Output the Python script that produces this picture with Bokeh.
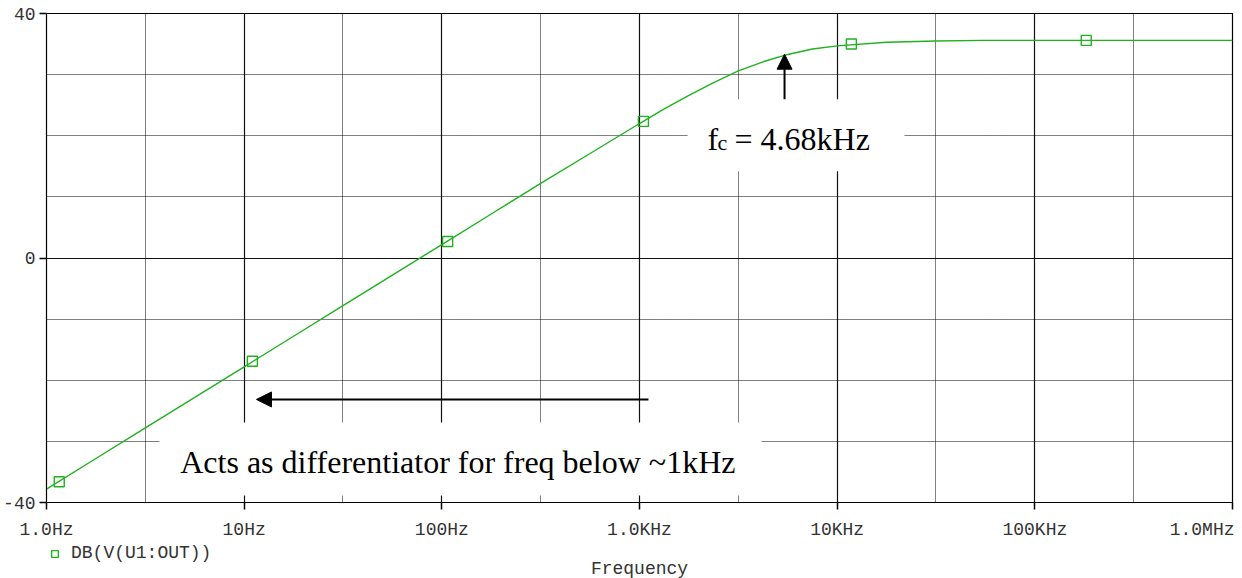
import numpy as np
from bokeh.plotting import figure
from bokeh.layouts import column
from bokeh.models import (FixedTicker, Grid, Label, BoxAnnotation, Arrow, NormalHead,
                          Legend, LegendItem)
from bokeh.embed import file_html
from bokeh.resources import INLINE

# ---- data ----
freq_hz = [1, 1.778, 3.162, 5.623, 10, 17.78, 31.62, 56.23, 100, 177.8, 316.2, 562.3,
           1000, 1334, 1778, 2371, 3162, 4217, 5623, 7499, 10000, 17780, 31620, 56230,
           100000, 1000000]
gain_db = [-37.8, -32.8, -27.8, -22.8, -17.8, -12.8, -7.8, -2.8, 2.2, 7.2, 12.2, 17.1,
           22.0, 24.4, 26.6, 28.7, 30.6, 32.1, 33.3, 34.2, 34.7, 35.3, 35.5, 35.6,
           35.6, 35.6]
marker_hz = [1.16, 11.0, 107, 1047, 11800, 182000]
marker_db = [-36.6, -16.9, 2.7, 22.35, 35.0, 35.6]

x_ticks = [1.0, 10.0, 100.0, 1000.0, 10000.0, 100000.0, 1000000.0]
x_tick_labels = ["1.0Hz", "10Hz", "100Hz", "1.0KHz", "10KHz", "100KHz", "1.0MHz"]
x_half_decades = [3.162, 31.62, 316.2, 3162.0, 31620.0, 316200.0]
y_ticks = [-40, 0, 40]
y_tick_labels = ["-40", "0", "40"]
y_dotted = [-30, -20, -10, 10, 20, 30]

series_name = "DB(V(U1:OUT))"
x_title = "Frequency"
fc_text = "4.68kHz"
note_text = "Acts as differentiator for freq below ~1kHz"

GREEN = "#1fb21f"
MONO = "Liberation Mono"
SERIF = "Liberation Serif"
W = 1234

p = figure(width=W, height=542, x_axis_type="log", x_range=(1, 1e6), y_range=(-40, 40),
           output_backend="svg", toolbar_location=None,
           min_border_left=39, min_border_right=2, min_border_top=13, min_border_bottom=38)
p.outline_line_color = "black"
p.outline_line_width = 1.2

# grids
p.xgrid.ticker = FixedTicker(ticks=x_ticks)
p.xgrid.grid_line_color = "#111111"
p.xgrid.grid_line_width = 1.2
p.ygrid.ticker = FixedTicker(ticks=[0])
p.ygrid.grid_line_color = "#111111"
p.ygrid.grid_line_width = 1.2
p.add_layout(Grid(dimension=0, ticker=FixedTicker(ticks=x_half_decades),
                  grid_line_color="#000000", grid_line_dash="1 1", grid_line_width=1))
p.add_layout(Grid(dimension=1, ticker=FixedTicker(ticks=y_dotted),
                  grid_line_color="#000000", grid_line_dash="1 1", grid_line_width=1))

# axes
for ax in (p.xaxis[0], p.yaxis[0]):
    ax.axis_line_color = "black"
    ax.major_tick_line_color = "black"
    ax.major_tick_line_width = 1.5
    ax.major_tick_in = 0
    ax.major_tick_out = 7
    ax.minor_tick_in = 0
    ax.minor_tick_out = 0
    ax.major_label_text_font = MONO
    ax.major_label_text_font_size = "18px"
    ax.major_label_text_color = "#333333"
    ax.major_label_standoff = 4

p.xaxis.ticker = FixedTicker(ticks=x_ticks, minor_ticks=[])
p.xaxis.major_label_overrides = {t: l for t, l in zip(x_ticks, x_tick_labels)}
p.xaxis.major_label_standoff = 10
p.yaxis.ticker = FixedTicker(ticks=y_ticks, minor_ticks=[])
p.yaxis.major_label_overrides = {t: l for t, l in zip(y_ticks, y_tick_labels)}

# data
p.line(freq_hz, gain_db, line_color=GREEN, line_width=1.4)
p.scatter(marker_hz, marker_db, marker="square", size=10, fill_color=None,
          line_color=GREEN, line_width=1.4)

# white boxes behind annotations
p.add_layout(BoxAnnotation(left=1750, right=21900, bottom=14.18, top=25.97,
                           fill_color="white", fill_alpha=1, line_alpha=0))
p.add_layout(BoxAnnotation(left=3.73, right=4142, bottom=-38.85, top=-26.9,
                           fill_color="white", fill_alpha=1, line_alpha=0))

# arrows
p.add_layout(Arrow(end=NormalHead(size=15, fill_color="black", line_color="black"),
                   x_start=5417, y_start=25.97, x_end=5417, y_end=33.34,
                   line_color="black", line_width=2))
p.add_layout(Arrow(end=NormalHead(size=15, fill_color="black", line_color="black"),
                   x_start=1110, y_start=-23.14, x_end=11.54, y_end=-23.14,
                   line_color="black", line_width=2))

# fc annotation
p.add_layout(Label(x=2208, y=19.42, text="f", text_font=SERIF, text_font_size="32px",
                   text_color="black", text_baseline="alphabetic", text_align="left"))
p.add_layout(Label(x=2208, y=19.42, x_offset=10, y_offset=-3, text="c", text_font=SERIF,
                   text_font_size="22px", text_color="black", text_baseline="alphabetic",
                   text_align="left"))
p.add_layout(Label(x=2208, y=19.42, x_offset=27, text="= " + fc_text, text_font=SERIF,
                   text_font_size="32px", text_color="black", text_baseline="alphabetic",
                   text_align="left"))

# differentiator note
p.add_layout(Label(x=4.75, y=-33.44, text=note_text, text_font=SERIF, text_font_size="32px",
                   text_color="black", text_baseline="alphabetic", text_align="left"))

# ---- strip under the axis: legend and x title ----
p2 = figure(width=W, height=38, x_axis_type="log", x_range=p.x_range, y_range=(0, 1),
            x_axis_location=None, y_axis_location=None, output_backend="svg",
            toolbar_location=None, min_border_left=39, min_border_right=2,
            min_border_top=0, min_border_bottom=0)
p2.outline_line_color = None
p2.grid.visible = False
# legend-only renderer (its point lies outside the strip's range, so only the legend shows it)
legend_src = p2.scatter(x=[marker_hz[0]], y=[5.0], marker="square", size=10, fill_color=None,
                        line_color=GREEN, line_width=1.4)
leg = Legend(items=[LegendItem(label=series_name, renderers=[legend_src])], location=(0, 17),
             orientation="horizontal", border_line_alpha=0, background_fill_alpha=0,
             margin=0, padding=0, glyph_width=17, glyph_height=17, label_standoff=8,
             label_text_font=MONO, label_text_font_size="18px", label_text_color="#333333")
p2.add_layout(leg)
p2.add_layout(Label(x=1000, y=0, y_offset=12, text=x_title, text_font=MONO,
                    text_font_size="18px", text_color="#333333",
                    text_baseline="alphabetic", text_align="center"))

layout = column(p, p2, spacing=0)
open("out.html", "w").write(file_html(layout, INLINE))
